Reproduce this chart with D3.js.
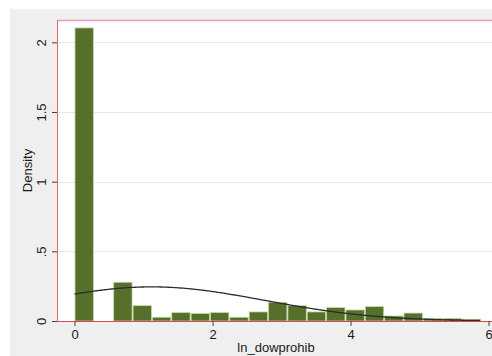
<!DOCTYPE html>
<html>
<head>
<meta charset="utf-8">
<script src="https://cdn.jsdelivr.net/npm/d3@7/dist/d3.min.js"></script>
<style>
  html, body { margin: 0; padding: 0; background: #ffffff; }
  svg { display: block; }
  text { font-family: "Liberation Sans", Arial, sans-serif; fill: #1a1a1a; }
</style>
</head>
<body>
<svg id="chart" width="492" height="356"></svg>
<script>
// Histogram of ln_dowprohib: bins start at 0, equal width
const binStart = 0;
const binWidth = 0.2805;
const densities = [2.103, 0, 0.278, 0.110, 0.027, 0.060, 0.053, 0.060, 0.027, 0.065,
                   0.134, 0.110, 0.065, 0.096, 0.079, 0.103, 0.036, 0.057, 0.019, 0.019, 0.012];

// Overlaid normal density
const normalMean = 1.12;
const normalSd = 1.63;

const xTicks = [0, 2, 4, 6];
const yTicks = [0, 0.5, 1, 1.5, 2];
const yTickLabels = ["0", ".5", "1", "1.5", "2"];
const xTitle = "ln_dowprohib";
const yTitle = "Density";

const W = 492, H = 356;
const svg = d3.select("#chart");

// Graph region (light gray) and plot region (white)
svg.append("rect").attr("x", 10).attr("y", 9).attr("width", W - 10).attr("height", H - 9)
  .attr("fill", "#efefef");

const plot = { left: 57, top: 20, right: 500, bottom: 321 };

svg.append("rect").attr("x", plot.left).attr("y", plot.top)
  .attr("width", plot.right - plot.left).attr("height", plot.bottom - plot.top)
  .attr("fill", "#ffffff");

const x = d3.scaleLinear().domain([0, 6]).range([74.5, 488.5]);
const y = d3.scaleLinear().domain([0, 2]).range([321, 42.3]);

// Gridlines
svg.append("g").selectAll("line").data(yTicks.filter(d => d > 0)).join("line")
  .attr("x1", plot.left).attr("x2", plot.right)
  .attr("y1", d => Math.round(y(d)) + 0.5).attr("y2", d => Math.round(y(d)) + 0.5)
  .attr("stroke", "#e8e8e8").attr("stroke-width", 1);

// Bars
const bins = densities.map((d, i) => ({ x0: binStart + i * binWidth, x1: binStart + (i + 1) * binWidth, d }));
svg.append("g").selectAll("rect").data(bins.filter(b => b.d > 0)).join("rect")
  .attr("x", b => x(b.x0) + 0.5)
  .attr("width", b => x(b.x1) - x(b.x0) - 1)
  .attr("y", b => y(b.d))
  .attr("height", b => y(0) - y(b.d))
  .attr("fill", "#55702b")
  .attr("stroke", "#c5d3a6")
  .attr("stroke-width", 0.8);

// Normal curve
const curveXs = d3.range(0, 5.8905 + 1e-9, 0.02);
const pdf = v => Math.exp(-0.5 * ((v - normalMean) / normalSd) ** 2) / (normalSd * Math.sqrt(2 * Math.PI));
svg.append("path")
  .datum(curveXs)
  .attr("d", d3.line().x(v => x(v)).y(v => y(pdf(v))).curve(d3.curveMonotoneX))
  .attr("fill", "none").attr("stroke", "#2b2b2b").attr("stroke-width", 1.3);

// Plot region border: pink top, red left and bottom axis lines
svg.append("line").attr("x1", plot.left).attr("x2", plot.right)
  .attr("y1", plot.top + 0.5).attr("y2", plot.top + 0.5)
  .attr("stroke", "#eaa0b4").attr("stroke-width", 1.5);
svg.append("line").attr("x1", plot.left + 0.5).attr("x2", plot.left + 0.5)
  .attr("y1", plot.top).attr("y2", plot.bottom)
  .attr("stroke", "#d86a6a").attr("stroke-width", 1);
svg.append("line").attr("x1", plot.left).attr("x2", plot.right)
  .attr("y1", plot.bottom + 0.5).attr("y2", plot.bottom + 0.5)
  .attr("stroke", "#d84a4a").attr("stroke-width", 1);

// Y axis
const yAxis = d3.axisLeft(y).tickValues(yTicks).tickSize(5).tickPadding(4)
  .tickFormat((d, i) => yTickLabels[i]);
const gy = svg.append("g").attr("transform", `translate(${plot.left},0)`).call(yAxis);
gy.select(".domain").remove();
gy.selectAll(".tick line").attr("stroke", "#444");
gy.selectAll(".tick text")
  .attr("font-size", 13)
  .attr("font-family", "Liberation Sans, Arial, sans-serif")
  .attr("fill", "#1a1a1a")
  .attr("text-anchor", "middle")
  .attr("x", 0).attr("dy", 0)
  .attr("transform", "translate(-11,0) rotate(-90)")
  .attr("dominant-baseline", "auto");

// X axis
const xAxis = d3.axisBottom(x).tickValues(xTicks).tickSize(5).tickPadding(4).tickFormat(d3.format("d"));
const gx = svg.append("g").attr("transform", `translate(0,${plot.bottom})`).call(xAxis);
gx.select(".domain").remove();
gx.selectAll(".tick line").attr("stroke", "#444");
gx.selectAll(".tick text")
  .attr("font-size", 13)
  .attr("font-family", "Liberation Sans, Arial, sans-serif")
  .attr("fill", "#1a1a1a");

// Axis titles
svg.append("text").attr("x", (plot.left + 495) / 2).attr("y", 352)
  .attr("text-anchor", "middle").attr("font-size", 13).text(xTitle);
svg.append("text")
  .attr("transform", `translate(32,${(plot.top + plot.bottom) / 2}) rotate(-90)`)
  .attr("text-anchor", "middle").attr("font-size", 13).text(yTitle);
</script>
</body>
</html>
